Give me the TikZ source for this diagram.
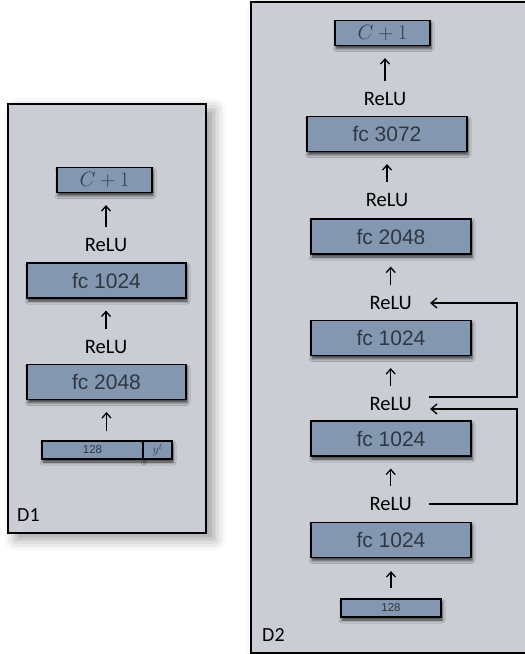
\documentclass[tikz,border=0pt]{standalone}
\usepackage{fontspec}
\newfontfamily\arialf{Liberation Sans}
\newfontfamily\calf{Carlito}
\usetikzlibrary{arrows.meta,shadows.blur}
\definecolor{boxfill}{HTML}{8497B0}
\definecolor{panelfill}{HTML}{CACED4}
\definecolor{boxtext}{HTML}{2F3743}
\definecolor{mathtext}{HTML}{333D4C}
\tikzset{
  panel/.style={draw=black, line width=1.4pt, fill=panelfill, inner sep=0pt,
    blur shadow={shadow xshift=8pt, shadow yshift=-6pt, shadow blur radius=12pt, shadow opacity=40}},
  layer/.style={draw=black, line width=1.2pt, fill=boxfill, inner sep=0pt,
    minimum width=160pt, minimum height=35pt, text=boxtext,
    font=\arialf\fontsize{21}{21}\selectfont,
    blur shadow={shadow xshift=1pt, shadow yshift=-3pt, shadow blur radius=3pt, shadow opacity=75}},
  mathbox/.style={layer, minimum width=95pt, minimum height=25pt, text=mathtext,
    font=\fontsize{21}{21}\selectfont},
  inbox/.style={layer, minimum width=100pt, minimum height=18pt,
    font=\arialf\fontsize{11.5}{11.5}\selectfont},
  relu/.style={inner sep=0pt, font=\calf\fontsize{20.5}{20.5}\selectfont, text=black},
  plabel/.style={inner sep=0pt, anchor=west, font=\calf\fontsize{20}{20}\selectfont, text=black},
  uparr/.style={line width=1.3pt, -{Straight Barb[length=5pt,width=9pt]}, shorten <=11pt, shorten >=12pt},
  fb/.style={line width=1.3pt, -{Straight Barb[length=6pt,width=10pt]}},
}
\begin{document}
\begin{tikzpicture}[x=1pt,y=-1pt]
\useasboundingbox (0,0) rectangle (525,654);
% panels
\node[panel, minimum width=198pt, minimum height=429pt] (p1) at (107,318.5) {};
\node[panel, minimum width=290pt, minimum height=651pt] (p2) at (396,327.5) {};
% ---------- D1 ----------
\node[mathbox] (d1out) at (104.5,180) {$C+1$};
\node[relu] (d1r1) at (106,245) {ReLU};
\node[layer, minimum width=159pt] (d1fa) at (106.5,280.5) {fc 1024};
\node[relu] (d1r2) at (106,347) {ReLU};
\node[layer, minimum width=159pt] (d1fb) at (106.5,382) {fc 2048};
\node[inbox, minimum width=101pt] (d1in) at (92.5,450) {128};
\node[inbox, minimum width=29pt, text=mathtext, font=\fontsize{12}{12}\selectfont] (d1y) at (157.5,450) {$y^t$};
\node[plabel] (d1lab) at (17,515) {D1};
\draw[uparr] (d1r1.north) -- (d1r1.north |- d1out.south);
\draw[uparr] (d1r2.north) -- (d1r2.north |- d1fa.south);
\draw[uparr, shorten <=9pt] (d1fb.south |- d1in.north) -- (d1fb.south);
% ---------- D2 ----------
\node[mathbox] (d2out) at (382.5,33) {$C+1$};
\node[relu] (d2r1) at (385,99) {ReLU};
\node[layer] (d2f1) at (387,134) {fc 3072};
\node[relu] (d2r2) at (387,200) {ReLU};
\node[layer] (d2f2) at (391,236.5) {fc 2048};
\node[relu] (d2r3) at (390.7,303) {ReLU};
\node[layer] (d2f3) at (391,338) {fc 1024};
\node[relu] (d2r4) at (390.7,404) {ReLU};
\node[layer] (d2f4) at (391,438.5) {fc 1024};
\node[relu] (d2r5) at (390.7,504) {ReLU};
\node[layer] (d2f5) at (391,540) {fc 1024};
\node[inbox] (d2in) at (391,608) {128};
\node[plabel] (d2lab) at (262,635) {D2};
\draw[uparr] (d2r1.north) -- (d2r1.north |- d2out.south);
\draw[uparr] (d2r2.north) -- (d2r2.north |- d2f1.south);
\draw[uparr] (d2r3.north) -- (d2r3.north |- d2f2.south);
\draw[uparr] (d2r4.north) -- (d2r4.north |- d2f3.south);
\draw[uparr] (d2r5.north) -- (d2r5.north |- d2f4.south);
\draw[uparr, shorten <=10pt, shorten >=13pt] (d2f5.south |- d2in.north) -- (d2f5.south);
% skip connections
\draw[fb] ([xshift=17pt,yshift=7pt]d2r4.east) -- ++(88,0) |- ([xshift=18pt]d2r3.east);
\draw[fb] ([xshift=17pt]d2r5.east) -- ++(88,0) |- ([xshift=18pt,yshift=-5pt]d2r4.east);
\end{tikzpicture}
\end{document}
